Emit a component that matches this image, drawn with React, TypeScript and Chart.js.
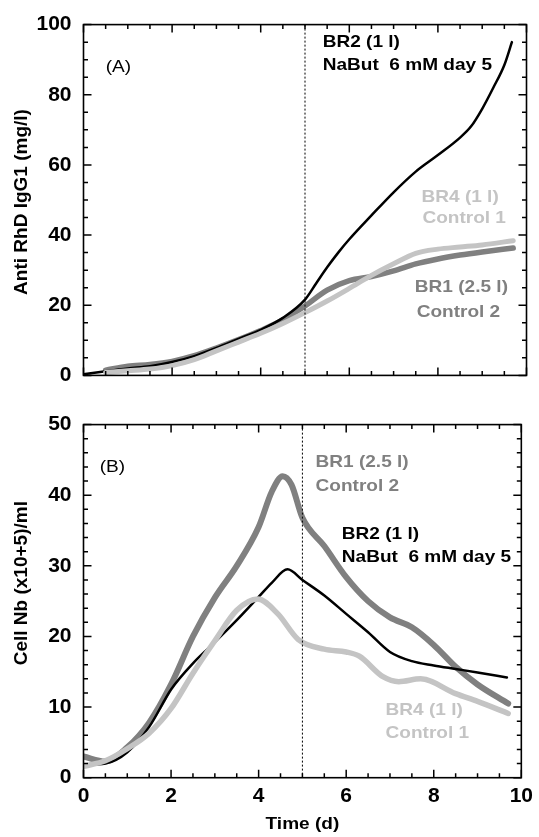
import React, { useEffect, useRef } from "react";
import { Chart, registerables } from "chart.js";

Chart.register(...registerables);

const FAMILY = '"Liberation Sans", Arial, Helvetica, sans-serif';
const BLACK = "#000000";
const DARK = "#808080";
const LIGHT = "#c4c4c4";

// ---------- Panel A : Anti RhD IgG1 (mg/l) ----------
const tA_BR2 = [0, 0.5, 1, 1.5, 2, 2.5, 3, 3.5, 4, 4.5, 5, 5.25, 5.5, 5.75, 6, 6.5, 7, 7.5, 8, 8.5, 8.75, 9, 9.25, 9.5, 9.67];
const igg_BR2 = [0.3, 1.2, 2.0, 2.6, 3.8, 5.5, 7.8, 10.4, 13, 16.4, 21.6, 26.2, 30.8, 35, 38.8, 45.6, 52.2, 58.1, 62.8, 67.8, 71, 76, 82, 88.5, 95];

const tA_BR1 = [0.5, 1, 1.5, 2, 2.5, 3, 3.5, 4, 4.5, 5, 5.5, 6, 6.5, 7, 7.5, 8, 8.5, 9, 9.7];
const igg_BR1 = [1.5, 2.6, 3.1, 4.0, 5.6, 7.8, 10.2, 12.8, 15.8, 19.8, 24.3, 27, 28.2, 29.8, 31.8, 33.2, 34.3, 35.2, 36.3];

const tA_BR4 = [0.5, 1, 1.5, 2, 2.5, 3, 3.5, 4, 4.5, 5, 5.5, 6, 6.5, 7, 7.5, 8, 8.5, 9, 9.7];
const igg_BR4 = [0.8, 1.3, 1.8, 2.8, 4.5, 7.0, 9.5, 12, 14.8, 17.9, 21.2, 24.8, 28.5, 31.8, 34.8, 36, 36.6, 37.2, 38.4];

// ---------- Panel B : Cell Nb (x10+5)/ml ----------
const tB_BR1 = [0, 0.5, 1, 1.5, 2, 2.5, 3, 3.5, 4, 4.3, 4.55, 4.75, 5, 5.5, 6, 6.5, 7, 7.5, 8, 8.5, 9, 9.7];
const cell_BR1 = [3.0, 2.3, 4.3, 7.8, 13.2, 20.0, 25.5, 30, 35.5, 40.5, 42.7, 41.5, 36.8, 32.8, 28.4, 25, 22.7, 21.3, 18.8, 15.7, 13.2, 10.5];

const tB_BR2 = [0, 0.5, 1, 1.5, 2, 2.5, 3, 3.5, 4, 4.3, 4.66, 5, 5.5, 6, 6.5, 7, 7.5, 8, 8.5, 9, 9.67];
const cell_BR2 = [1.8, 2.0, 3.6, 7.2, 12.5, 16.2, 19.2, 22.3, 25.6, 27.6, 29.5, 28, 25.8, 23.2, 20.6, 17.8, 16.5, 15.9, 15.4, 14.9, 14.2];

const tB_BR4 = [0, 0.5, 1, 1.5, 2, 2.5, 3, 3.5, 3.98, 4.44, 4.9, 5.5, 6, 6.3, 6.84, 7.2, 7.7, 8.5, 9, 9.7];
const cell_BR4 = [1.6, 2.4, 4.1, 6.3, 9.8, 14.8, 19.4, 23.7, 25.3, 23.2, 19.6, 18.2, 17.8, 17.2, 14.3, 13.6, 14, 11.9, 10.8, 9.1];

// ---------- Axes ----------
const X_MIN = 0, X_MAX = 10, X_STEP = 2, X_MINOR = 0.5;
const YA_MAX = 100, YA_STEP = 20, YA_MINOR = 5;
const YB_MAX = 50, YB_STEP = 10, YB_MINOR = 2;
const ADD_DAY = 5;

const X_TITLE = "Time (d)";
const YA_TITLE = "Anti RhD IgG1 (mg/l)";
const YB_TITLE = "Cell Nb (x10+5)/ml";

// ---------- Text annotations (data coordinates) ----------
const labelsA = [
  { text: "(A)", x: 0.5, y: 87.8, color: BLACK, bold: false },
  { text: "BR2 (1 l)", x: 5.4, y: 94.9, color: BLACK, bold: true },
  { text: "NaBut  6 mM day 5", x: 5.4, y: 88.5, color: BLACK, bold: true },
  { text: "BR4 (1 l)", x: 7.63, y: 50.8, color: LIGHT, bold: true },
  { text: "Control 1", x: 7.65, y: 44.7, color: LIGHT, bold: true },
  { text: "BR1 (2.5 l)", x: 7.48, y: 25, color: DARK, bold: true },
  { text: "Control 2", x: 7.52, y: 17.9, color: DARK, bold: true },
];
const labelsB = [
  { text: "(B)", x: 0.37, y: 43.9, color: BLACK, bold: false },
  { text: "BR1 (2.5 l)", x: 5.3, y: 44.6, color: DARK, bold: true },
  { text: "Control 2", x: 5.3, y: 41.3, color: DARK, bold: true },
  { text: "BR2 (1 l)", x: 5.9, y: 34.5, color: BLACK, bold: true },
  { text: "NaBut  6 mM day 5", x: 5.9, y: 31.2, color: BLACK, bold: true },
  { text: "BR4 (1 l)", x: 6.9, y: 9.5, color: LIGHT, bold: true },
  { text: "Control 1", x: 6.9, y: 6.3, color: LIGHT, bold: true },
];

const zip = (xs: number[], ys: number[]) => xs.map((x, i) => ({ x, y: ys[i] }));

type DecorCfg = {
  markerX: number; xMinor: number; xMajor: number; yMinor: number; yMajor: number; yMax: number;
  labels: typeof labelsA; yTitle: string; yTitleShift: number; xTitle: string | null; xTitleY: number;
};

function makeDecor(cfg: DecorCfg) {
  return {
    id: "decor",
    afterDraw(chart: any) {
      const ctx: CanvasRenderingContext2D = chart.ctx;
      const a = chart.chartArea;
      const xs = chart.scales.x, ys = chart.scales.y;
      const L = a.left, R = a.right, T = a.top, B = a.bottom;
      ctx.save();
      ctx.setLineDash([]);

      // frame
      ctx.strokeStyle = "#000000";
      ctx.lineWidth = 1.6;
      ctx.strokeRect(L, T, R - L, B - T);

      // inward ticks
      ctx.beginPath();
      const nx = Math.round((X_MAX - X_MIN) / cfg.xMinor);
      const xEvery = Math.round(cfg.xMajor / cfg.xMinor);
      for (let i = 0; i <= nx; i++) {
        const len = i % xEvery === 0 ? 8 : 4.5;
        const px = L + ((R - L) * i) / nx;
        ctx.rect(px - 0.75, B - len, 1.5, len);
        ctx.rect(px - 0.75, T, 1.5, len);
      }
      const ny = Math.round(cfg.yMax / cfg.yMinor);
      const yEvery = Math.round(cfg.yMajor / cfg.yMinor);
      for (let i = 0; i <= ny; i++) {
        const len = i % yEvery === 0 ? 8 : 4.5;
        const py = B - ((B - T) * i) / ny;
        ctx.rect(L, py - 0.75, len, 1.5);
        ctx.rect(R - len, py - 0.75, len, 1.5);
      }
      ctx.fillStyle = "#000000";
      ctx.fill();

      // dotted marker
      ctx.lineWidth = 1;
      ctx.setLineDash([2, 2]);
      const xd = xs.getPixelForValue(cfg.markerX);
      ctx.beginPath(); ctx.moveTo(xd, T); ctx.lineTo(xd, B); ctx.stroke();
      ctx.setLineDash([]);

      // annotations
      ctx.textBaseline = "middle";
      ctx.textAlign = "left";
      for (const l of cfg.labels) {
        ctx.font = `${l.bold ? "bold " : ""}17px ${FAMILY}`;
        ctx.fillStyle = l.color;
        ctx.save();
        ctx.translate(xs.getPixelForValue(l.x), ys.getPixelForValue(l.y));
        ctx.scale(1.12, 1);
        ctx.fillText(l.text, 0, 0);
        ctx.restore();
      }
      // y title
      ctx.fillStyle = "#000";
      ctx.font = `bold 19px ${FAMILY}`;
      ctx.textAlign = "center";
      ctx.save();
      ctx.translate(22, (T + B) / 2 + cfg.yTitleShift);
      ctx.rotate(-Math.PI / 2);
      ctx.fillText(cfg.yTitle, 0, 0);
      ctx.restore();
      // x title
      if (cfg.xTitle) {
        ctx.save();
        ctx.font = `bold 17px ${FAMILY}`;
        ctx.translate((L + R) / 2, cfg.xTitleY);
        ctx.scale(1.12, 1);
        ctx.fillText(cfg.xTitle, 0, 0);
        ctx.restore();
      }
      ctx.restore();
    },
  };
}

function lineDs(data: any[], color: string, width: number, order: number) {
  return {
    data,
    borderColor: color,
    backgroundColor: color,
    borderWidth: width,
    pointRadius: 0,
    fill: false,
    cubicInterpolationMode: "monotone" as const,
    borderCapStyle: "round" as const,
    borderJoinStyle: "round" as const,
    order,
  };
}

const tickFont = { family: FAMILY, size: 21, weight: "bold" as const };

export default function App() {
  const topRef = useRef<HTMLCanvasElement>(null);
  const botRef = useRef<HTMLCanvasElement>(null);

  useEffect(() => {
    const top = new Chart(topRef.current!, {
      type: "line",
      data: {
        datasets: [
          lineDs(zip(tA_BR4, igg_BR4), LIGHT, 5, 0),
          lineDs(zip(tA_BR2, igg_BR2), BLACK, 2.5, 1),
          lineDs(zip(tA_BR1, igg_BR1), DARK, 5.5, 2),
        ],
      },
      plugins: [makeDecor({
        markerX: ADD_DAY, xMinor: X_MINOR, xMajor: X_STEP, yMinor: YA_MINOR, yMajor: YA_STEP, yMax: YA_MAX,
        labels: labelsA, yTitle: YA_TITLE, yTitleShift: 2, xTitle: null, xTitleY: 0,
      })],
      options: {
        animation: false,
        responsive: false,
        layout: { padding: { top: 22.7, right: 12.5, left: 0, bottom: 0 } },
        plugins: { legend: { display: false }, tooltip: { enabled: false } },
        scales: {
          x: {
            type: "linear", min: X_MIN, max: X_MAX,
            ticks: { display: false, stepSize: X_STEP },
            grid: { display: false, drawTicks: false },
            border: { display: false },
            afterFit: (s: any) => { s.height = 23.3; },
          },
          y: {
            type: "linear", min: 0, max: YA_MAX,
            ticks: { stepSize: YA_STEP, font: tickFont, color: "#000", padding: 12 },
            grid: { display: false, drawTicks: false },
            border: { display: false },
            afterFit: (s: any) => { s.width = 83.5; },
          },
        },
      } as any,
    });

    const bot = new Chart(botRef.current!, {
      type: "line",
      data: {
        datasets: [
          lineDs(zip(tB_BR4, cell_BR4), LIGHT, 5.5, 0),
          lineDs(zip(tB_BR2, cell_BR2), BLACK, 2.5, 1),
          lineDs(zip(tB_BR1, cell_BR1), DARK, 6, 2),
        ],
      },
      plugins: [makeDecor({
        markerX: ADD_DAY, xMinor: X_MINOR, xMajor: X_STEP, yMinor: YB_MINOR, yMajor: YB_STEP, yMax: YB_MAX,
        labels: labelsB, yTitle: YB_TITLE, yTitleShift: -18, xTitle: X_TITLE, xTitleY: 424,
      })],
      options: {
        animation: false,
        responsive: false,
        layout: { padding: { top: 23.3, right: 12.5, left: 0, bottom: 0 } },
        plugins: { legend: { display: false }, tooltip: { enabled: false } },
        scales: {
          x: {
            type: "linear", min: X_MIN, max: X_MAX,
            ticks: { stepSize: X_STEP, font: tickFont, color: "#000", padding: 6, maxRotation: 0 },
            grid: { display: false, drawTicks: false },
            border: { display: false },
            afterFit: (s: any) => { s.height = 59.3; },
          },
          y: {
            type: "linear", min: 0, max: YB_MAX,
            ticks: { stepSize: YB_STEP, font: tickFont, color: "#000", padding: 12 },
            grid: { display: false, drawTicks: false },
            border: { display: false },
            afterFit: (s: any) => { s.width = 83.5; },
          },
        },
      } as any,
    });

    return () => {
      top.destroy();
      bot.destroy();
    };
  }, []);

  return (
    <div style={{ position: "absolute", left: 0, top: 0, width: 539, height: 837, background: "#fff" }}>
      <canvas ref={topRef} width={539} height={400} style={{ position: "absolute", left: 0, top: 0, width: 539, height: 400 }} />
      <canvas ref={botRef} width={539} height={437} style={{ position: "absolute", left: 0, top: 400, width: 539, height: 437 }} />
    </div>
  );
}
